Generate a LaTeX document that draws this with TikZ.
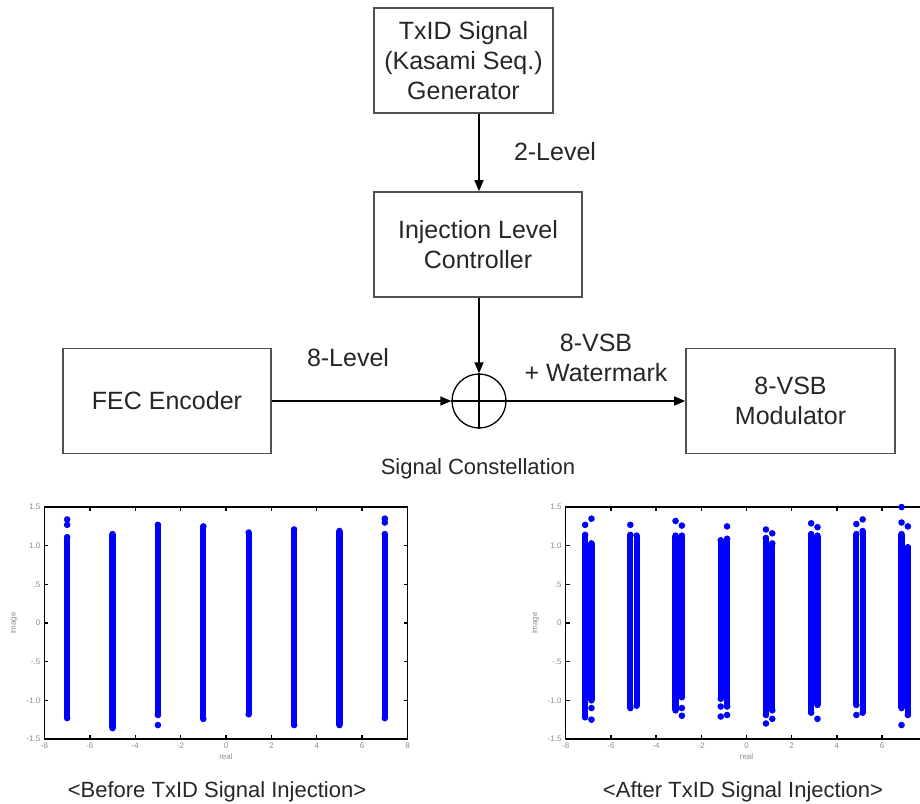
\documentclass[tikz,border=0pt]{standalone}
\usepackage{fontspec}
\setmainfont{Liberation Sans}
\usepackage{xcolor}
\usepackage{tikz}
\usetikzlibrary{positioning,arrows.meta,shapes}

\definecolor{scatblue}{RGB}{0,0,255}
\definecolor{boxgray}{RGB}{80,80,80}

\newcommand{\scatbar}[3]{%
  \fill[scatblue] ({#1-0.135},#2) rectangle ({#1+0.135},#3);
  \fill[scatblue] (#1,#2) circle[radius=3.3pt];
  \fill[scatblue] (#1,#3) circle[radius=3.3pt];}

\newcommand{\axisframe}[2]{%
  \draw[axisline] (-8,-1.5) rectangle (8,1.5);
  \foreach \t in {-8,-6,...,8} {
    \draw[axisline] (\t,-1.5) -- ++(0,4pt);
    \draw[axisline] (\t,1.5) -- ++(0,-4pt);
  }
  \foreach \t [count=\i] in {-8,-6,...,#2}
    \node[ticklbl, below=4pt] (#1x\i) at (\t,-1.5) {\t};
  \foreach \v/\s [count=\i] in {-1.5/-1.5,-1/-1.0,-0.5/-.5,0/0,0.5/.5,1/1.0,1.5/1.5} {
    \draw[axisline] (-8,\v) -- ++(4pt,0);
    \draw[axisline] (8,\v) -- ++(-4pt,0);
    \node[ticklbl, left=4pt] (#1y\i) at (-8,\v) {\s};
  }
  \node[ticklbl, below=15pt] (#1xl) at (0,-1.5) {real};
  \node[ticklbl, rotate=90] (#1yl) at (-9.35,0) {image};
}

\begin{document}
\begin{tikzpicture}[
    x=1pt, y=-1pt,
    blockbox/.style={draw=boxgray, line width=1.6pt, minimum height=105pt, align=center,
        font=\fontsize{25}{30}\selectfont, text=black!85},
    lbl/.style={align=center, font=\fontsize{25}{30}\selectfont, text=black!85},
    caption/.style={font=\fontsize{22}{26}\selectfont, text=black!85},
    sumnode/.style={circle, draw, line width=1.3pt, minimum size=54pt, inner sep=0pt},
    flow/.style={-{Triangle[length=11pt,width=9pt]}, line width=1.3pt},
    axisline/.style={line width=1.3pt},
    ticklbl/.style={font=\fontsize{8}{8}\selectfont, text=black!45, inner sep=0pt}
]
\useasboundingbox (0,0) rectangle (920,803);
\clip (0,0) rectangle (920,803);

\node[blockbox, minimum width=179pt] (gen) at (463.5,60.5) {TxID Signal\\(Kasami Seq.)\\Generator};
\node[blockbox, minimum width=208pt] (ctrl) at (478,244.5) {Injection Level\\Controller};
\node[blockbox, minimum width=208pt] (fec) at (167,401) {FEC Encoder};
\node[blockbox, minimum width=209pt] (mod) at (790.5,401) {8-VSB\\Modulator};
\node[sumnode] (sum) at (479,401) {};

\draw[flow] (gen.south -| sum.north) -- (ctrl.north -| sum.north);
\draw[flow] (ctrl.south -| sum.north) -- (sum.north);
\draw[flow] (fec.east) -- (sum.west);
\draw[flow] (sum.east) -- (mod.west);
\draw[line width=1.3pt] (sum.north) -- (sum.south) (sum.west) -- (sum.east);

\node[lbl] (lvltwo) at (555,152) {2-Level};
\node[lbl] (lvleight) at (348,358) {8-Level};
\node[lbl] (vsbwm) at (596,358) {8-VSB\\+ Watermark};
\node[caption] (constel) at (478,469) {Signal Constellation};
\node[caption] (capbefore) at (217,792) {<Before TxID Signal Injection>};
\node[caption] (capafter) at (743,792) {<After TxID Signal Injection>};

\begin{scope}[shift={(226pt,-623pt)}, x=22.69pt, y=77.3pt]
  \axisframe{b}{8}
  \foreach \c/\lo/\hi in {-7/-1.23/1.11, -5/-1.36/1.15, -3/-1.19/1.27, -1/-1.24/1.25,
      1/-1.18/1.17, 3/-1.32/1.21, 5/-1.32/1.19, 7/-1.23/1.15}
    \scatbar{\c}{\lo}{\hi};
  \foreach \c/\v in {-7/1.27, -7/1.34, -3/-1.32, 7/1.30, 7/1.35}
    \fill[scatblue] (\c,\v) circle[radius=3.3pt];
\end{scope}

\begin{scope}[shift={(746.5pt,-623pt)}, x=22.6pt, y=77.3pt]
  \axisframe{a}{6}
  \foreach \c/\lo/\hi in {-7.14/-1.22/1.14, -6.86/-1.00/1.03, -5.14/-1.10/1.14, -4.86/-1.07/1.13,
      -3.14/-1.13/1.13, -2.86/-0.96/1.13, -1.14/-0.98/1.07, -0.86/-1.08/1.09,
      0.86/-1.19/1.10, 1.14/-1.13/1.03, 2.86/-1.16/1.15, 3.14/-1.06/1.13,
      4.86/-1.06/1.15, 5.14/-1.16/1.19, 6.86/-1.10/1.15, 7.14/-1.19/0.98}
    \scatbar{\c}{\lo}{\hi};
  \foreach \c/\v in {-7.14/1.27, -6.86/-1.10, -6.86/-1.25, -6.86/1.35, -5.14/1.27,
      -3.14/1.32, -2.86/1.26, -2.86/-1.10, -2.86/-1.20, -1.14/-1.08, -1.14/-1.21,
      -0.86/1.25, -0.86/-1.19, 0.86/1.21, 0.86/-1.30, 1.14/1.16, 1.14/-1.24,
      2.86/1.29, 3.14/1.24, 3.14/-1.24, 4.86/1.28, 4.86/-1.19, 5.14/1.34,
      6.86/1.50, 6.86/1.30, 6.86/-1.32, 7.14/1.25}
    \fill[scatblue] (\c,\v) circle[radius=3.3pt];
\end{scope}
\end{tikzpicture}
\end{document}
